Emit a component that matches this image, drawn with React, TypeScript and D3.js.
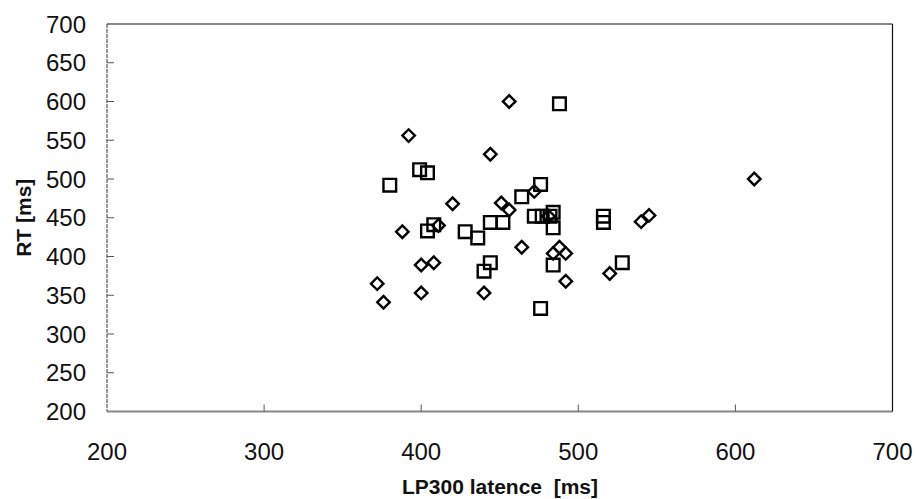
import React from "react";
import * as d3 from "d3";

const diamondX = [392, 456, 444, 612, 420, 388, 411, 451, 456, 472, 481, 464, 484, 488, 492, 492, 520, 540, 545, 400, 408, 372, 376, 400, 440];
const diamondY = [556, 600, 532, 500, 468, 432, 440, 469, 460, 484, 452, 412, 404, 412, 404, 368, 378, 445, 453, 389, 392, 365, 341, 353, 353];
const squareX = [488, 380, 399, 404, 464, 476, 444, 452, 428, 436, 404, 408, 472, 477, 482, 484, 484, 516, 516, 444, 440, 484, 476, 528];
const squareY = [597, 492, 512, 508, 477, 493, 444, 444, 432, 424, 433, 441, 452, 452, 452, 457, 437, 452, 444, 392, 381, 389, 333, 392];
const xTicks = [200, 300, 400, 500, 600, 700];
const yTicks = [200, 250, 300, 350, 400, 450, 500, 550, 600, 650, 700];
const xLabel = "LP300 latence  [ms]";
const yLabel = "RT [ms]";

const W = 916;
const H = 499;
const left = 107;
const right = 892.5;
const top = 24;
const bottom = 411.5;

export default function App() {
  const x = d3.scaleLinear().domain([200, 700]).range([left, right]);
  const y = d3.scaleLinear().domain([200, 700]).range([bottom, top]);
  const diamond = d3.symbol().type(d3.symbolSquare).size(78)();
  const square = d3.symbol().type(d3.symbolSquare).size(160)();
  const font = "'Liberation Sans', Arial, sans-serif";

  return (
    <div style={{ position: "absolute", left: 0, top: 0 }}>
      <svg width={W} height={H} style={{ display: "block", background: "#fff" }}>
        {/* frame */}
        <line x1={left} x2={right} y1={top} y2={top} stroke="#888" strokeWidth={2} />
        <line x1={left} x2={right} y1={bottom} y2={bottom} stroke="#888" strokeWidth={2} />
        <line x1={left} x2={left} y1={top} y2={bottom} stroke="#333" strokeWidth={1} strokeDasharray="4 1" />
        <line x1={right} x2={right} y1={top} y2={bottom} stroke="#111" strokeWidth={1.2} />
        {/* y ticks */}
        {yTicks.map((t) => (
          <g key={"y" + t}>
            {t !== 200 && t !== 700 && (
              <line x1={left} x2={left + 7} y1={y(t)} y2={y(t)} stroke="#555" strokeWidth={1} />
            )}
            <text x={86} y={y(t) + 8.5} textAnchor="end" fontFamily={font} fontSize={24} fill="#111">
              {t}
            </text>
          </g>
        ))}
        {/* x ticks */}
        {xTicks.map((t) => (
          <g key={"x" + t}>
            {t !== 200 && t !== 700 && (
              <line x1={x(t)} x2={x(t)} y1={bottom} y2={bottom - 7} stroke="#555" strokeWidth={1} />
            )}
            <text x={x(t)} y={460} textAnchor="middle" fontFamily={font} fontSize={24} fill="#111">
              {t}
            </text>
          </g>
        ))}
        {/* axis labels */}
        <text
          x={402}
          y={494}
          textLength={196}
          lengthAdjust="spacingAndGlyphs"
          style={{ whiteSpace: "pre" }}
          fontFamily={font}
          fontSize={20}
          fontWeight="bold"
          fill="#111"
        >
          {xLabel}
        </text>
        <text
          transform={`translate(31, ${(top + bottom) / 2}) rotate(-90)`}
          textAnchor="middle"
          fontFamily={font}
          fontSize={21}
          fontWeight="bold"
          fill="#111"
        >
          {yLabel}
        </text>
        {/* squares */}
        {squareX.map((v, i) => (
          <path
            key={"s" + i}
            d={square}
            transform={`translate(${x(v)},${y(squareY[i])})`}
            fill="none"
            stroke="#000"
            strokeWidth={2.4}
          />
        ))}
        {/* diamonds */}
        {diamondX.map((v, i) => (
          <path
            key={"d" + i}
            d={diamond}
            transform={`translate(${x(v)},${y(diamondY[i])}) rotate(45)`}
            fill="none"
            stroke="#000"
            strokeWidth={2.4}
          />
        ))}
      </svg>
    </div>
  );
}
